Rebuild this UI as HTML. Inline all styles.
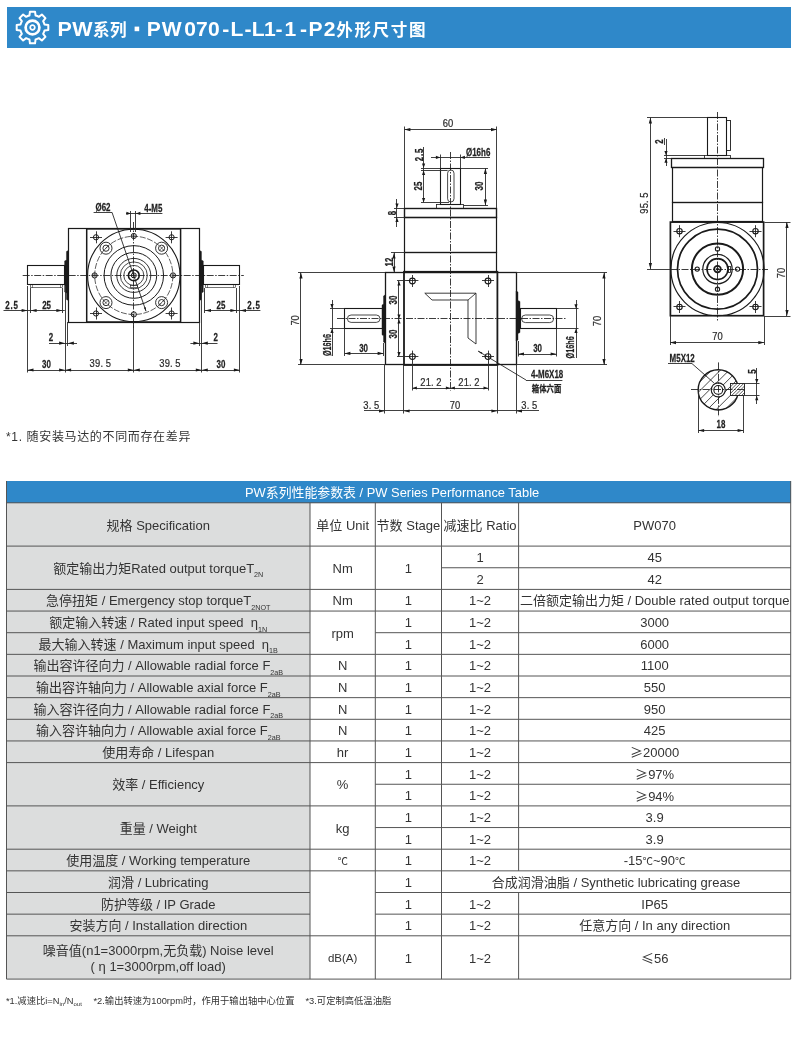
<!DOCTYPE html>
<html lang="zh"><head><meta charset="utf-8"><title>PW070-L-L1-1-P2</title>
<style>
html,body{margin:0;padding:0;background:#fff}
#wrap{position:absolute;left:0;top:0;width:800px;height:1050px;will-change:transform;opacity:.999}
body{width:800px;height:1050px;position:relative;overflow:hidden;font-family:"Liberation Sans","Noto Sans CJK SC",sans-serif;color:#333}
.title{position:absolute;left:6.5px;top:7px;width:784.5px;height:40.5px;background:#2f88c9}
.title .t{position:absolute;left:52px;top:0;height:40.5px;line-height:40.5px;color:#fff;font-weight:bold;font-size:20.5px;white-space:nowrap;transform-origin:0 50%}
.c{position:absolute;display:flex;align-items:center;justify-content:center;text-align:center;font-size:13px;line-height:21.65px;white-space:nowrap;color:#333}
.c span{display:inline-block}
.c>span{position:relative;top:1px}
.dc{font-family:"Noto Sans CJK SC",sans-serif;font-size:10.5px;position:relative;top:-0.5px}
.ge{font-family:"Noto Sans CJK SC",sans-serif;font-size:13px}
.sb{font-size:7.2px;position:relative;top:4.5px;letter-spacing:0;line-height:1}
.thead{position:absolute;background:#2f88c9;color:#fff;font-size:12.9px;display:flex;align-items:center;justify-content:center;white-space:nowrap}
.n1{position:absolute;left:6px;top:429px;font-size:12px;letter-spacing:.65px;line-height:16px;white-space:nowrap;color:#333}
.n2 sub{font-size:6px;vertical-align:-2px;line-height:0}
.n2{position:absolute;top:995px;font-size:9.3px;line-height:12px;white-space:nowrap;color:#333}
</style></head><body><div id="wrap">
<div class="title"><svg style="position:absolute;left:8px;top:3px" width="35" height="35" viewBox="-17.5 -17.5 35 35" fill="none" stroke="#fff">
<path stroke-width="2" stroke-linejoin="round" d="M-3.07 -12.01L-2.55 -15.80L2.55 -15.80L3.07 -12.01A12.4 12.4 0 0 1 6.33 -10.66L9.37 -12.97L12.97 -9.37L10.66 -6.33A12.4 12.4 0 0 1 12.01 -3.07L15.80 -2.55L15.80 2.55L12.01 3.07A12.4 12.4 0 0 1 10.66 6.33L12.97 9.37L9.37 12.97L6.33 10.66A12.4 12.4 0 0 1 3.07 12.01L2.55 15.80L-2.55 15.80L-3.07 12.01A12.4 12.4 0 0 1 -6.33 10.66L-9.37 12.97L-12.97 9.37L-10.66 6.33A12.4 12.4 0 0 1 -12.01 3.07L-15.80 2.55L-15.80 -2.55L-12.01 -3.07A12.4 12.4 0 0 1 -10.66 -6.33L-12.97 -9.37L-9.37 -12.97L-6.33 -10.66A12.4 12.4 0 0 1 -3.07 -12.01Z"/>
<circle r="6.9" stroke-width="2.7"/><circle r="2.3" stroke-width="1.7"/></svg></div>
<svg style="position:absolute;left:0;top:0" width="800" height="60" viewBox="0 0 800 60" fill="#fff" font-weight="bold" font-family='"Liberation Sans","Noto Sans CJK SC",sans-serif'>
<text transform="scale(1.08 1)" x="53.24 66.81" y="36.3" font-size="19.9">PW</text>
<text x="93" y="35.8" font-size="16.6" letter-spacing="0.5">系列</text>
<rect x="134.6" y="26.6" width="4.6" height="4.6"/>
<text transform="scale(1.06 1)" x="138.52 152.63 173.93 185.02 196.20 209.62 217.56 230.66 237.40 249.10 259.90 268.30 283.02 290.97 305.54" y="36.3" font-size="19.9">PW070-L-L1-1-P2</text>
<text x="336.2" y="35.8" font-size="16.6" letter-spacing="1.6">外形尺寸图</text>
</svg>
<svg class="dw" width="800" height="470" viewBox="0 0 800 470" style="position:absolute;left:0;top:0" fill="none">
<rect x="68.5" y="228.5" width="131" height="94" stroke="#1a1a1a" stroke-width="1.2" fill="none"/>
<rect x="86.7" y="228.9" width="93.9" height="93.1" stroke="#1a1a1a" stroke-width="1.5" fill="none"/>
<rect x="27.5" y="265.5" width="37" height="19" stroke="#1a1a1a" stroke-width="1.1" fill="none"/>
<rect x="30.5" y="284.5" width="32" height="3" stroke="#1a1a1a" stroke-width="0.6" fill="none"/>
<path d="M32.5 285L32.5 287.8" stroke="#1a1a1a" stroke-width="0.5"/>
<path d="M60.5 285L60.5 287.8" stroke="#1a1a1a" stroke-width="0.5"/>
<path d="M68.3 250.5L66.45 251.5L66.45 259.98L64.6 260.98L64.6 291.91L66.45 292.91L66.45 299.4L68.3 300.4Z" stroke="#1a1a1a" stroke-width="0.4" fill="#1a1a1a"/>
<rect x="203.5" y="265.5" width="36" height="19" stroke="#1a1a1a" stroke-width="1.1" fill="none"/>
<rect x="205.5" y="284.5" width="30" height="3" stroke="#1a1a1a" stroke-width="0.6" fill="none"/>
<path d="M207.5 285L207.5 287.8" stroke="#1a1a1a" stroke-width="0.5"/>
<path d="M233.5 285L233.5 287.8" stroke="#1a1a1a" stroke-width="0.5"/>
<path d="M199.6 250.5L201.45 251.5L201.45 259.98L203.3 260.98L203.3 291.91L201.45 292.91L201.45 299.4L199.6 300.4Z" stroke="#1a1a1a" stroke-width="0.4" fill="#1a1a1a"/>
<circle cx="133.8" cy="275.4" r="46.2" stroke="#1a1a1a" stroke-width="1.1" fill="none"/>
<circle cx="133.8" cy="275.4" r="39.1" stroke="#1a1a1a" stroke-width="0.7" fill="none" stroke-dasharray="6 1.6"/>
<circle cx="133.8" cy="275.4" r="29.75" stroke="#1a1a1a" stroke-width="1.0" fill="none"/>
<circle cx="133.8" cy="275.4" r="22.9" stroke="#1a1a1a" stroke-width="1.0" fill="none"/>
<circle cx="133.8" cy="275.4" r="17" stroke="#1a1a1a" stroke-width="0.9" fill="none"/>
<circle cx="133.8" cy="275.4" r="13.5" stroke="#1a1a1a" stroke-width="0.8" fill="none"/>
<circle cx="133.8" cy="275.4" r="10" stroke="#1a1a1a" stroke-width="0.8" fill="none"/>
<circle cx="133.8" cy="275.4" r="5.4" stroke="#1a1a1a" stroke-width="1.6" fill="none"/>
<circle cx="133.8" cy="275.4" r="2.5" stroke="#1a1a1a" stroke-width="1.0" fill="none"/>
<circle cx="133.8" cy="275.4" r="0.9" stroke="#1a1a1a" stroke-width="0.5" fill="#1a1a1a"/>
<rect x="130.5" y="285.5" width="7" height="2" stroke="#1a1a1a" stroke-width="0.6" fill="none"/>
<circle cx="96" cy="237.3" r="2.6" stroke="#1a1a1a" stroke-width="1.0" fill="none"/>
<path d="M90 237.5L102 237.5" stroke="#1a1a1a" stroke-width="0.85"/>
<path d="M96.5 231.3L96.5 243.3" stroke="#1a1a1a" stroke-width="0.85"/>
<circle cx="106" cy="248.2" r="6" stroke="#1a1a1a" stroke-width="0.9" fill="none"/>
<circle cx="106" cy="248.2" r="3.1" stroke="#1a1a1a" stroke-width="0.9" fill="none"/>
<path d="M104 250.2L108 246.2" stroke="#1a1a1a" stroke-width="0.6"/>
<circle cx="96" cy="313.5" r="2.6" stroke="#1a1a1a" stroke-width="1.0" fill="none"/>
<path d="M90 313.5L102 313.5" stroke="#1a1a1a" stroke-width="0.85"/>
<path d="M96.5 307.5L96.5 319.5" stroke="#1a1a1a" stroke-width="0.85"/>
<circle cx="106" cy="302.6" r="6" stroke="#1a1a1a" stroke-width="0.9" fill="none"/>
<circle cx="106" cy="302.6" r="3.1" stroke="#1a1a1a" stroke-width="0.9" fill="none"/>
<path d="M104 304.6L108 300.6" stroke="#1a1a1a" stroke-width="0.6"/>
<circle cx="171.6" cy="237.3" r="2.6" stroke="#1a1a1a" stroke-width="1.0" fill="none"/>
<path d="M165.6 237.5L177.6 237.5" stroke="#1a1a1a" stroke-width="0.85"/>
<path d="M171.5 231.3L171.5 243.3" stroke="#1a1a1a" stroke-width="0.85"/>
<circle cx="161.6" cy="248.2" r="6" stroke="#1a1a1a" stroke-width="0.9" fill="none"/>
<circle cx="161.6" cy="248.2" r="3.1" stroke="#1a1a1a" stroke-width="0.9" fill="none"/>
<path d="M159.6 250.2L163.6 246.2" stroke="#1a1a1a" stroke-width="0.6"/>
<circle cx="171.6" cy="313.5" r="2.6" stroke="#1a1a1a" stroke-width="1.0" fill="none"/>
<path d="M165.6 313.5L177.6 313.5" stroke="#1a1a1a" stroke-width="0.85"/>
<path d="M171.5 307.5L171.5 319.5" stroke="#1a1a1a" stroke-width="0.85"/>
<circle cx="161.6" cy="302.6" r="6" stroke="#1a1a1a" stroke-width="0.9" fill="none"/>
<circle cx="161.6" cy="302.6" r="3.1" stroke="#1a1a1a" stroke-width="0.9" fill="none"/>
<path d="M159.6 304.6L163.6 300.6" stroke="#1a1a1a" stroke-width="0.6"/>
<circle cx="94.6" cy="275.4" r="2.6" stroke="#1a1a1a" stroke-width="1.0" fill="none"/>
<circle cx="94.6" cy="275.4" r="1.4" stroke="#1a1a1a" stroke-width="0.4" fill="none"/>
<circle cx="173" cy="275.4" r="2.6" stroke="#1a1a1a" stroke-width="1.0" fill="none"/>
<circle cx="173" cy="275.4" r="1.4" stroke="#1a1a1a" stroke-width="0.4" fill="none"/>
<circle cx="133.8" cy="236" r="2.6" stroke="#1a1a1a" stroke-width="1.0" fill="none"/>
<circle cx="133.8" cy="236" r="1.4" stroke="#1a1a1a" stroke-width="0.4" fill="none"/>
<circle cx="133.8" cy="314.4" r="2.6" stroke="#1a1a1a" stroke-width="1.0" fill="none"/>
<circle cx="133.8" cy="314.4" r="1.4" stroke="#1a1a1a" stroke-width="0.4" fill="none"/>
<path d="M22.7 275.5L243.8 275.5" stroke="#1a1a1a" stroke-width="0.85" stroke-dasharray="7 1.5 1.5 1.5"/>
<path d="M133.5 222L133.5 328" stroke="#1a1a1a" stroke-width="0.85" stroke-dasharray="7 1.5 1.5 1.5"/>
<path d="M93.6 212.5L112 212.5" stroke="#2b2b2b" stroke-width="0.9"/>
<path d="M112 212.3L146 311.2" stroke="#1a1a1a" stroke-width="0.85"/>
<path d="M146.2 311.6L143.88 307.64L145.59 307.05Z" fill="#1a1a1a" stroke="none"/>
<text transform="translate(103 210.6) scale(0.68 1)" text-anchor="middle" font-size="11.7" font-family='"Liberation Sans","Noto Sans CJK SC",sans-serif' fill="#222" font-weight="bold" stroke="#222" stroke-width="0.25">Ø62</text>
<text transform="translate(153.3 211.8) scale(0.68 1)" text-anchor="middle" font-size="11.7" font-family='"Liberation Sans","Noto Sans CJK SC",sans-serif' fill="#222" font-weight="bold" stroke="#222" stroke-width="0.25">4-M5</text>
<path d="M126 213.5L162.4 213.5" stroke="#2b2b2b" stroke-width="0.9"/>
<path d="M130.9 213.4L126.4 215L126.4 211.8Z" fill="#1a1a1a" stroke="none"/>
<path d="M135.9 213.4L140.4 211.8L140.4 215Z" fill="#1a1a1a" stroke="none"/>
<path d="M130.5 211L130.5 232" stroke="#2b2b2b" stroke-width="0.9"/>
<path d="M135.5 211L135.5 232" stroke="#2b2b2b" stroke-width="0.9"/>
<path d="M3.5 310.5L64.8 310.5" stroke="#2b2b2b" stroke-width="0.9"/>
<path d="M27.6 310.5L21.6 312.1L21.6 308.9Z" fill="#1a1a1a" stroke="none"/>
<path d="M30.6 310.5L36.6 308.9L36.6 312.1Z" fill="#1a1a1a" stroke="none"/>
<path d="M62.4 310.5L56.4 312.1L56.4 308.9Z" fill="#1a1a1a" stroke="none"/>
<path d="M204.4 310.5L260.4 310.5" stroke="#2b2b2b" stroke-width="0.9"/>
<path d="M240 310.5L246 308.9L246 312.1Z" fill="#1a1a1a" stroke="none"/>
<path d="M236.4 310.5L230.4 312.1L230.4 308.9Z" fill="#1a1a1a" stroke="none"/>
<path d="M205 310.5L211 308.9L211 312.1Z" fill="#1a1a1a" stroke="none"/>
<text transform="translate(12 308.5) scale(0.68 1)" text-anchor="middle" font-size="11.7" font-family='"Liberation Sans","Noto Sans CJK SC",sans-serif' fill="#222" font-weight="bold" stroke="#222" stroke-width="0.25" letter-spacing="1.2">2.5</text>
<text transform="translate(46.6 308.5) scale(0.68 1)" text-anchor="middle" font-size="11.7" font-family='"Liberation Sans","Noto Sans CJK SC",sans-serif' fill="#222" font-weight="bold" stroke="#222" stroke-width="0.25">25</text>
<text transform="translate(221 308.5) scale(0.68 1)" text-anchor="middle" font-size="11.7" font-family='"Liberation Sans","Noto Sans CJK SC",sans-serif' fill="#222" font-weight="bold" stroke="#222" stroke-width="0.25">25</text>
<text transform="translate(254 308.5) scale(0.68 1)" text-anchor="middle" font-size="11.7" font-family='"Liberation Sans","Noto Sans CJK SC",sans-serif' fill="#222" font-weight="bold" stroke="#222" stroke-width="0.25" letter-spacing="1.2">2.5</text>
<path d="M30.5 288L30.5 313" stroke="#2b2b2b" stroke-width="0.9"/>
<path d="M62.5 288L62.5 313" stroke="#2b2b2b" stroke-width="0.9"/>
<path d="M204.5 288L204.5 313" stroke="#2b2b2b" stroke-width="0.9"/>
<path d="M236.5 288L236.5 313" stroke="#2b2b2b" stroke-width="0.9"/>
<path d="M27.5 286L27.5 372.5" stroke="#2b2b2b" stroke-width="0.9"/>
<path d="M65.5 286L65.5 372.5" stroke="#2b2b2b" stroke-width="0.9"/>
<path d="M201.5 286L201.5 372.5" stroke="#2b2b2b" stroke-width="0.9"/>
<path d="M239.5 286L239.5 372.5" stroke="#2b2b2b" stroke-width="0.9"/>
<path d="M67.5 322L67.5 346" stroke="#2b2b2b" stroke-width="0.9"/>
<path d="M199.5 322L199.5 346" stroke="#2b2b2b" stroke-width="0.9"/>
<path d="M133.5 322L133.5 372.5" stroke="#2b2b2b" stroke-width="0.9"/>
<path d="M49 343.5L77 343.5" stroke="#2b2b2b" stroke-width="0.9"/>
<path d="M65.1 343.2L59.1 344.8L59.1 341.6Z" fill="#1a1a1a" stroke="none"/>
<path d="M67.9 343.2L73.9 341.6L73.9 344.8Z" fill="#1a1a1a" stroke="none"/>
<path d="M190.4 343.5L217.5 343.5" stroke="#2b2b2b" stroke-width="0.9"/>
<path d="M199.4 343.2L193.4 344.8L193.4 341.6Z" fill="#1a1a1a" stroke="none"/>
<path d="M201.8 343.2L207.8 341.6L207.8 344.8Z" fill="#1a1a1a" stroke="none"/>
<text transform="translate(51 341.4) scale(0.68 1)" text-anchor="middle" font-size="11.7" font-family='"Liberation Sans","Noto Sans CJK SC",sans-serif' fill="#222" font-weight="bold" stroke="#222" stroke-width="0.25">2</text>
<text transform="translate(215.8 341.4) scale(0.68 1)" text-anchor="middle" font-size="11.7" font-family='"Liberation Sans","Noto Sans CJK SC",sans-serif' fill="#222" font-weight="bold" stroke="#222" stroke-width="0.25">2</text>
<path d="M27.5 370.5L239.9 370.5" stroke="#2b2b2b" stroke-width="0.9"/>
<path d="M27.5 370L33.5 368.4L33.5 371.6Z" fill="#1a1a1a" stroke="none"/>
<path d="M65.1 370L59.1 371.6L59.1 368.4Z" fill="#1a1a1a" stroke="none"/>
<path d="M65.1 370L71.1 368.4L71.1 371.6Z" fill="#1a1a1a" stroke="none"/>
<path d="M133.8 370L127.8 371.6L127.8 368.4Z" fill="#1a1a1a" stroke="none"/>
<path d="M133.8 370L139.8 368.4L139.8 371.6Z" fill="#1a1a1a" stroke="none"/>
<path d="M201.8 370L195.8 371.6L195.8 368.4Z" fill="#1a1a1a" stroke="none"/>
<path d="M201.8 370L207.8 368.4L207.8 371.6Z" fill="#1a1a1a" stroke="none"/>
<path d="M239.9 370L233.9 371.6L233.9 368.4Z" fill="#1a1a1a" stroke="none"/>
<text transform="translate(46.4 367.6) scale(0.68 1)" text-anchor="middle" font-size="11.7" font-family='"Liberation Sans","Noto Sans CJK SC",sans-serif' fill="#222" font-weight="bold" stroke="#222" stroke-width="0.25">30</text>
<text transform="translate(221 367.6) scale(0.68 1)" text-anchor="middle" font-size="11.7" font-family='"Liberation Sans","Noto Sans CJK SC",sans-serif' fill="#222" font-weight="bold" stroke="#222" stroke-width="0.25">30</text>
<text transform="translate(100.3 367.4) scale(0.93 1)" text-anchor="middle" font-size="10.1" font-family='"Liberation Sans",sans-serif' fill="#2a2a2a" stroke="#2a2a2a" stroke-width="0.2" letter-spacing="0.25">39.<tspan dx="2.6">5</tspan></text>
<text transform="translate(170 367.4) scale(0.93 1)" text-anchor="middle" font-size="10.1" font-family='"Liberation Sans",sans-serif' fill="#2a2a2a" stroke="#2a2a2a" stroke-width="0.2" letter-spacing="0.25">39.<tspan dx="2.6">5</tspan></text>
<rect x="440.5" y="168.5" width="20" height="36" stroke="#1a1a1a" stroke-width="1.1" fill="none"/>
<rect x="436.5" y="204.5" width="27" height="4" stroke="#1a1a1a" stroke-width="0.8" fill="none"/>
<rect x="447.6" y="170" width="6.4" height="32" stroke="#1a1a1a" stroke-width="0.8" fill="none" rx="3.2"/>
<rect x="404.5" y="208.5" width="92" height="9" stroke="#1a1a1a" stroke-width="1.4" fill="none"/>
<rect x="404.5" y="217.5" width="92" height="35" stroke="#1a1a1a" stroke-width="1.2" fill="none"/>
<rect x="404.5" y="252.5" width="92" height="20" stroke="#1a1a1a" stroke-width="1.2" fill="none"/>
<path d="M450.5 152L450.5 391" stroke="#1a1a1a" stroke-width="0.85" stroke-dasharray="7 1.5 1.5 1.5"/>
<path d="M404.4 129.5L497 129.5" stroke="#2b2b2b" stroke-width="0.9"/>
<path d="M404.4 129.6L410.4 128L410.4 131.2Z" fill="#1a1a1a" stroke="none"/>
<path d="M497 129.6L491 131.2L491 128Z" fill="#1a1a1a" stroke="none"/>
<path d="M404.5 126.5L404.5 208" stroke="#2b2b2b" stroke-width="0.9"/>
<path d="M496.5 126.5L496.5 208" stroke="#2b2b2b" stroke-width="0.9"/>
<text transform="translate(448 127.4) scale(0.93 1)" text-anchor="middle" font-size="10.1" font-family='"Liberation Sans",sans-serif' fill="#2a2a2a" stroke="#2a2a2a" stroke-width="0.2">60</text>
<text transform="translate(466 155.6) scale(0.68 1)" text-anchor="start" font-size="11.7" font-family='"Liberation Sans","Noto Sans CJK SC",sans-serif' fill="#222" font-weight="bold" stroke="#222" stroke-width="0.25">Ø16h6</text>
<path d="M431 157.5L490 157.5" stroke="#2b2b2b" stroke-width="0.9"/>
<path d="M440.4 157.4L435.9 159L435.9 155.8Z" fill="#1a1a1a" stroke="none"/>
<path d="M460.4 157.4L464.9 155.8L464.9 159Z" fill="#1a1a1a" stroke="none"/>
<path d="M440.5 154.5L440.5 168" stroke="#2b2b2b" stroke-width="0.9"/>
<path d="M460.5 154.5L460.5 168" stroke="#2b2b2b" stroke-width="0.9"/>
<path d="M423.5 147L423.5 202.4" stroke="#2b2b2b" stroke-width="0.9"/>
<path d="M423.6 168L422 163.5L425.2 163.5Z" fill="#1a1a1a" stroke="none"/>
<path d="M423.6 170.4L425.2 174.9L422 174.9Z" fill="#1a1a1a" stroke="none"/>
<path d="M423.6 202.4L422 197.9L425.2 197.9Z" fill="#1a1a1a" stroke="none"/>
<path d="M421 168.5L440.4 168.5" stroke="#2b2b2b" stroke-width="0.9"/>
<path d="M421 170.5L447.6 170.5" stroke="#2b2b2b" stroke-width="0.9"/>
<path d="M421 202.5L449 202.5" stroke="#2b2b2b" stroke-width="0.9"/>
<text transform="translate(422.6 154.5) rotate(-90) scale(0.68 1)" text-anchor="middle" font-size="11.7" font-family='"Liberation Sans","Noto Sans CJK SC",sans-serif' fill="#222" font-weight="bold" stroke="#222" stroke-width="0.25" letter-spacing="1.2">2.5</text>
<text transform="translate(422.4 186) rotate(-90) scale(0.68 1)" text-anchor="middle" font-size="11.7" font-family='"Liberation Sans","Noto Sans CJK SC",sans-serif' fill="#222" font-weight="bold" stroke="#222" stroke-width="0.25">25</text>
<path d="M485.5 168L485.5 205.6" stroke="#2b2b2b" stroke-width="0.9"/>
<path d="M485.4 168L487 174L483.8 174Z" fill="#1a1a1a" stroke="none"/>
<path d="M485.4 205.6L483.8 199.6L487 199.6Z" fill="#1a1a1a" stroke="none"/>
<path d="M460.4 168.5L488 168.5" stroke="#2b2b2b" stroke-width="0.9"/>
<path d="M463.6 205.5L488 205.5" stroke="#2b2b2b" stroke-width="0.9"/>
<text transform="translate(483.4 186) rotate(-90) scale(0.68 1)" text-anchor="middle" font-size="11.7" font-family='"Liberation Sans","Noto Sans CJK SC",sans-serif' fill="#222" font-weight="bold" stroke="#222" stroke-width="0.25">30</text>
<path d="M396.5 199L396.5 227" stroke="#2b2b2b" stroke-width="0.9"/>
<path d="M397 208L395.4 203.5L398.6 203.5Z" fill="#1a1a1a" stroke="none"/>
<path d="M397 217.6L398.6 222.1L395.4 222.1Z" fill="#1a1a1a" stroke="none"/>
<path d="M394 208.5L404.4 208.5" stroke="#2b2b2b" stroke-width="0.9"/>
<path d="M394 217.5L405 217.5" stroke="#2b2b2b" stroke-width="0.9"/>
<text transform="translate(395.6 213) rotate(-90) scale(0.68 1)" text-anchor="middle" font-size="11.7" font-family='"Liberation Sans","Noto Sans CJK SC",sans-serif' fill="#222" font-weight="bold" stroke="#222" stroke-width="0.25">8</text>
<path d="M394.5 252.4L394.5 272.4" stroke="#2b2b2b" stroke-width="0.9"/>
<path d="M394 252.4L395.6 258.4L392.4 258.4Z" fill="#1a1a1a" stroke="none"/>
<path d="M394 272.4L392.4 266.4L395.6 266.4Z" fill="#1a1a1a" stroke="none"/>
<path d="M391 252.5L405 252.5" stroke="#2b2b2b" stroke-width="0.9"/>
<text transform="translate(392.8 262) rotate(-90) scale(0.68 1)" text-anchor="middle" font-size="11.7" font-family='"Liberation Sans","Noto Sans CJK SC",sans-serif' fill="#222" font-weight="bold" stroke="#222" stroke-width="0.25">12</text>
<rect x="385.5" y="272.5" width="131" height="92" stroke="#1a1a1a" stroke-width="1.3" fill="none"/>
<rect x="404" y="271.8" width="93.4" height="93.2" stroke="#1a1a1a" stroke-width="1.8" fill="none"/>
<circle cx="412.4" cy="281" r="2.9" stroke="#1a1a1a" stroke-width="1.1" fill="none"/>
<path d="M406.4 280.5L418.4 280.5" stroke="#1a1a1a" stroke-width="0.85"/>
<path d="M412.5 275L412.5 287" stroke="#1a1a1a" stroke-width="0.85"/>
<circle cx="412.4" cy="356.6" r="2.9" stroke="#1a1a1a" stroke-width="1.1" fill="none"/>
<path d="M406.4 356.5L418.4 356.5" stroke="#1a1a1a" stroke-width="0.85"/>
<path d="M412.5 350.6L412.5 362.6" stroke="#1a1a1a" stroke-width="0.85"/>
<circle cx="488" cy="281" r="2.9" stroke="#1a1a1a" stroke-width="1.1" fill="none"/>
<path d="M482 280.5L494 280.5" stroke="#1a1a1a" stroke-width="0.85"/>
<path d="M488.5 275L488.5 287" stroke="#1a1a1a" stroke-width="0.85"/>
<circle cx="488" cy="356.6" r="2.9" stroke="#1a1a1a" stroke-width="1.1" fill="none"/>
<path d="M482 356.5L494 356.5" stroke="#1a1a1a" stroke-width="0.85"/>
<path d="M488.5 350.6L488.5 362.6" stroke="#1a1a1a" stroke-width="0.85"/>
<path d="M424.8 293.2L476 293.2L476 344L468 338L468 300L432 300Z" stroke="#1a1a1a" stroke-width="0.85" fill="none"/>
<path d="M468 300L476 293.2" stroke="#1a1a1a" stroke-width="0.8"/>
<rect x="344.5" y="308.5" width="38" height="20" stroke="#1a1a1a" stroke-width="1.1" fill="none"/>
<rect x="347.4" y="315" width="32.6" height="7.4" stroke="#1a1a1a" stroke-width="0.8" fill="none" rx="3.7"/>
<path d="M385 295L383.5 296L383.5 304.12L382 305.12L382 334.8L383.5 335.8L383.5 342L385 343Z" stroke="#1a1a1a" stroke-width="0.4" fill="#1a1a1a"/>
<rect x="520.5" y="308.5" width="36" height="20" stroke="#1a1a1a" stroke-width="1.1" fill="none"/>
<rect x="521.6" y="315" width="32" height="7.6" stroke="#1a1a1a" stroke-width="0.8" fill="none" rx="3.8"/>
<path d="M516 291L518 292L518 300.5L520 301.5L520 332.5L518 333.5L518 340L516 341Z" stroke="#1a1a1a" stroke-width="0.4" fill="#1a1a1a"/>
<path d="M337 318.5L566 318.5" stroke="#1a1a1a" stroke-width="0.85" stroke-dasharray="7 1.5 1.5 1.5"/>
<path d="M300.5 272.4L300.5 365" stroke="#2b2b2b" stroke-width="0.9"/>
<path d="M301 272.4L302.6 278.4L299.4 278.4Z" fill="#1a1a1a" stroke="none"/>
<path d="M301 365L299.4 359L302.6 359Z" fill="#1a1a1a" stroke="none"/>
<path d="M298 272.5L385 272.5" stroke="#2b2b2b" stroke-width="0.9"/>
<path d="M298 364.5L385 364.5" stroke="#2b2b2b" stroke-width="0.9"/>
<text transform="translate(299 320.4) rotate(-90) scale(0.93 1)" text-anchor="middle" font-size="10.1" font-family='"Liberation Sans",sans-serif' fill="#2a2a2a" stroke="#2a2a2a" stroke-width="0.2">70</text>
<path d="M332.5 300L332.5 356" stroke="#2b2b2b" stroke-width="0.9"/>
<path d="M332 308.6L330.4 304.1L333.6 304.1Z" fill="#1a1a1a" stroke="none"/>
<path d="M332 328.6L333.6 333.1L330.4 333.1Z" fill="#1a1a1a" stroke="none"/>
<path d="M330 308.5L344.4 308.5" stroke="#2b2b2b" stroke-width="0.9"/>
<path d="M330 328.5L344.4 328.5" stroke="#2b2b2b" stroke-width="0.9"/>
<text transform="translate(330.6 345) rotate(-90) scale(0.62 1)" text-anchor="middle" font-size="11.7" font-family='"Liberation Sans","Noto Sans CJK SC",sans-serif' fill="#222" font-weight="bold" stroke="#222" stroke-width="0.25">Ø16h6</text>
<path d="M344.4 353.5L383.6 353.5" stroke="#2b2b2b" stroke-width="0.9"/>
<path d="M344.4 353.4L350.4 351.8L350.4 355Z" fill="#1a1a1a" stroke="none"/>
<path d="M383.6 353.4L377.6 355L377.6 351.8Z" fill="#1a1a1a" stroke="none"/>
<path d="M344.5 328.6L344.5 356" stroke="#2b2b2b" stroke-width="0.9"/>
<path d="M383.5 343L383.5 356" stroke="#2b2b2b" stroke-width="0.9"/>
<text transform="translate(363.6 351.6) scale(0.68 1)" text-anchor="middle" font-size="11.7" font-family='"Liberation Sans","Noto Sans CJK SC",sans-serif' fill="#222" font-weight="bold" stroke="#222" stroke-width="0.25">30</text>
<path d="M398.5 281L398.5 356.6" stroke="#2b2b2b" stroke-width="0.9"/>
<path d="M399 281L400.6 285.5L397.4 285.5Z" fill="#1a1a1a" stroke="none"/>
<path d="M399 319L397.4 314.5L400.6 314.5Z" fill="#1a1a1a" stroke="none"/>
<path d="M399 319L400.6 323.5L397.4 323.5Z" fill="#1a1a1a" stroke="none"/>
<path d="M399 356.6L397.4 352.1L400.6 352.1Z" fill="#1a1a1a" stroke="none"/>
<path d="M397 280.5L409 280.5" stroke="#2b2b2b" stroke-width="0.9"/>
<path d="M397 356.5L409 356.5" stroke="#2b2b2b" stroke-width="0.9"/>
<text transform="translate(396.6 300) rotate(-90) scale(0.68 1)" text-anchor="middle" font-size="11.7" font-family='"Liberation Sans","Noto Sans CJK SC",sans-serif' fill="#222" font-weight="bold" stroke="#222" stroke-width="0.25">30</text>
<text transform="translate(396.6 334) rotate(-90) scale(0.68 1)" text-anchor="middle" font-size="11.7" font-family='"Liberation Sans","Noto Sans CJK SC",sans-serif' fill="#222" font-weight="bold" stroke="#222" stroke-width="0.25">30</text>
<path d="M412.4 388.5L488 388.5" stroke="#2b2b2b" stroke-width="0.9"/>
<path d="M412.4 388L416.9 386.4L416.9 389.6Z" fill="#1a1a1a" stroke="none"/>
<path d="M450.4 388L445.9 389.6L445.9 386.4Z" fill="#1a1a1a" stroke="none"/>
<path d="M450.4 388L454.9 386.4L454.9 389.6Z" fill="#1a1a1a" stroke="none"/>
<path d="M488 388L483.5 389.6L483.5 386.4Z" fill="#1a1a1a" stroke="none"/>
<path d="M412.5 362L412.5 390.5" stroke="#2b2b2b" stroke-width="0.9"/>
<path d="M488.5 362L488.5 390.5" stroke="#2b2b2b" stroke-width="0.9"/>
<text transform="translate(431 386) scale(0.93 1)" text-anchor="middle" font-size="10.1" font-family='"Liberation Sans",sans-serif' fill="#2a2a2a" stroke="#2a2a2a" stroke-width="0.2" letter-spacing="0.25">21.<tspan dx="2.6">2</tspan></text>
<text transform="translate(469 386) scale(0.93 1)" text-anchor="middle" font-size="10.1" font-family='"Liberation Sans",sans-serif' fill="#2a2a2a" stroke="#2a2a2a" stroke-width="0.2" letter-spacing="0.25">21.<tspan dx="2.6">2</tspan></text>
<path d="M364 410.5L539 410.5" stroke="#2b2b2b" stroke-width="0.9"/>
<path d="M385 411L379 412.6L379 409.4Z" fill="#1a1a1a" stroke="none"/>
<path d="M403.6 411L409.6 409.4L409.6 412.6Z" fill="#1a1a1a" stroke="none"/>
<path d="M497.4 411L491.4 412.6L491.4 409.4Z" fill="#1a1a1a" stroke="none"/>
<path d="M516 411L522 409.4L522 412.6Z" fill="#1a1a1a" stroke="none"/>
<path d="M384.5 365L384.5 413.5" stroke="#2b2b2b" stroke-width="0.9"/>
<path d="M403.5 365L403.5 413.5" stroke="#2b2b2b" stroke-width="0.9"/>
<path d="M497.5 365L497.5 413.5" stroke="#2b2b2b" stroke-width="0.9"/>
<path d="M516.5 365L516.5 413.5" stroke="#2b2b2b" stroke-width="0.9"/>
<text transform="translate(455 409.4) scale(0.93 1)" text-anchor="middle" font-size="10.1" font-family='"Liberation Sans",sans-serif' fill="#2a2a2a" stroke="#2a2a2a" stroke-width="0.2">70</text>
<text transform="translate(371.4 408.6) scale(0.93 1)" text-anchor="middle" font-size="10.1" font-family='"Liberation Sans",sans-serif' fill="#2a2a2a" stroke="#2a2a2a" stroke-width="0.2" letter-spacing="0.25">3.<tspan dx="2.6">5</tspan></text>
<text transform="translate(529.4 409.4) scale(0.93 1)" text-anchor="middle" font-size="10.1" font-family='"Liberation Sans",sans-serif' fill="#2a2a2a" stroke="#2a2a2a" stroke-width="0.2" letter-spacing="0.25">3.<tspan dx="2.6">5</tspan></text>
<path d="M518 354.5L556.6 354.5" stroke="#2b2b2b" stroke-width="0.9"/>
<path d="M518 354L524 352.4L524 355.6Z" fill="#1a1a1a" stroke="none"/>
<path d="M556.6 354L550.6 355.6L550.6 352.4Z" fill="#1a1a1a" stroke="none"/>
<path d="M518.5 341L518.5 356.5" stroke="#2b2b2b" stroke-width="0.9"/>
<path d="M556.5 328.6L556.5 356.5" stroke="#2b2b2b" stroke-width="0.9"/>
<text transform="translate(537.6 351.8) scale(0.68 1)" text-anchor="middle" font-size="11.7" font-family='"Liberation Sans","Noto Sans CJK SC",sans-serif' fill="#222" font-weight="bold" stroke="#222" stroke-width="0.25">30</text>
<path d="M576.5 300L576.5 358" stroke="#2b2b2b" stroke-width="0.9"/>
<path d="M576 308.8L574.4 304.3L577.6 304.3Z" fill="#1a1a1a" stroke="none"/>
<path d="M576 328.6L577.6 333.1L574.4 333.1Z" fill="#1a1a1a" stroke="none"/>
<path d="M556.6 308.5L578.5 308.5" stroke="#2b2b2b" stroke-width="0.9"/>
<path d="M556.6 328.5L578.5 328.5" stroke="#2b2b2b" stroke-width="0.9"/>
<text transform="translate(574.4 347.4) rotate(-90) scale(0.62 1)" text-anchor="middle" font-size="11.7" font-family='"Liberation Sans","Noto Sans CJK SC",sans-serif' fill="#222" font-weight="bold" stroke="#222" stroke-width="0.25">Ø16h6</text>
<path d="M604.5 272.4L604.5 365" stroke="#2b2b2b" stroke-width="0.9"/>
<path d="M604 272.4L605.6 278.4L602.4 278.4Z" fill="#1a1a1a" stroke="none"/>
<path d="M604 365L602.4 359L605.6 359Z" fill="#1a1a1a" stroke="none"/>
<path d="M516 272.5L607 272.5" stroke="#2b2b2b" stroke-width="0.9"/>
<path d="M516 364.5L607 364.5" stroke="#2b2b2b" stroke-width="0.9"/>
<text transform="translate(600.6 321) rotate(-90) scale(0.93 1)" text-anchor="middle" font-size="10.1" font-family='"Liberation Sans",sans-serif' fill="#2a2a2a" stroke="#2a2a2a" stroke-width="0.2">70</text>
<path d="M526 380.5L562.4 380.5" stroke="#2b2b2b" stroke-width="0.9"/>
<path d="M526 380L478 351" stroke="#1a1a1a" stroke-width="0.85"/>
<path d="M478 351L482.32 352.55L481.39 354.09Z" fill="#1a1a1a" stroke="none"/>
<text transform="translate(531 378) scale(0.68 1)" text-anchor="start" font-size="11.7" font-family='"Liberation Sans","Noto Sans CJK SC",sans-serif' fill="#222" font-weight="bold" stroke="#222" stroke-width="0.25">4-M6X18</text>
<text transform="translate(531.8 392.2) scale(0.86 1)" text-anchor="start" font-size="8.6" font-family='"Liberation Sans","Noto Sans CJK SC",sans-serif' fill="#222" font-weight="bold" stroke="#222" stroke-width="0.25">箱体六面</text>
<rect x="707.5" y="117.5" width="19" height="38" stroke="#1a1a1a" stroke-width="1.1" fill="none"/>
<rect x="726.5" y="120.5" width="4" height="30" stroke="#1a1a1a" stroke-width="0.9" fill="none"/>
<rect x="704.5" y="155.5" width="26" height="3" stroke="#1a1a1a" stroke-width="0.8" fill="none"/>
<rect x="671.5" y="158.5" width="92" height="9" stroke="#1a1a1a" stroke-width="1.3" fill="none"/>
<rect x="672.5" y="167.5" width="90" height="35" stroke="#1a1a1a" stroke-width="1.2" fill="none"/>
<rect x="672.5" y="202.5" width="90" height="19" stroke="#1a1a1a" stroke-width="1.2" fill="none"/>
<rect x="670.4" y="222.1" width="93.2" height="93.6" stroke="#1a1a1a" stroke-width="1.7" fill="none"/>
<circle cx="717.5" cy="269.1" r="46.6" stroke="#1a1a1a" stroke-width="1.2" fill="none"/>
<circle cx="717.5" cy="269.1" r="40" stroke="#1a1a1a" stroke-width="1.7" fill="none"/>
<circle cx="717.5" cy="269.1" r="25.6" stroke="#1a1a1a" stroke-width="2.0" fill="none"/>
<circle cx="717.5" cy="269.1" r="14.7" stroke="#1a1a1a" stroke-width="1.2" fill="none"/>
<circle cx="717.5" cy="269.1" r="10.5" stroke="#1a1a1a" stroke-width="1.6" fill="none"/>
<circle cx="717.5" cy="269.1" r="3.3" stroke="#1a1a1a" stroke-width="1.8" fill="none"/>
<circle cx="717.5" cy="269.1" r="1.2" stroke="#1a1a1a" stroke-width="0.5" fill="#1a1a1a"/>
<circle cx="717.5" cy="248.9" r="2.1" stroke="#1a1a1a" stroke-width="1.1" fill="none"/>
<circle cx="717.5" cy="289.2" r="2.1" stroke="#1a1a1a" stroke-width="1.1" fill="none"/>
<circle cx="697.2" cy="269.1" r="2.1" stroke="#1a1a1a" stroke-width="1.1" fill="none"/>
<circle cx="737.6" cy="269.1" r="2.1" stroke="#1a1a1a" stroke-width="1.1" fill="none"/>
<circle cx="679.5" cy="231.2" r="2.7" stroke="#1a1a1a" stroke-width="1.1" fill="none"/>
<path d="M673.5 231.5L685.5 231.5" stroke="#1a1a1a" stroke-width="0.85"/>
<path d="M679.5 225.2L679.5 237.2" stroke="#1a1a1a" stroke-width="0.85"/>
<circle cx="679.5" cy="307" r="2.7" stroke="#1a1a1a" stroke-width="1.1" fill="none"/>
<path d="M673.5 306.5L685.5 306.5" stroke="#1a1a1a" stroke-width="0.85"/>
<path d="M679.5 301L679.5 313" stroke="#1a1a1a" stroke-width="0.85"/>
<circle cx="755.5" cy="231.2" r="2.7" stroke="#1a1a1a" stroke-width="1.1" fill="none"/>
<path d="M749.5 231.5L761.5 231.5" stroke="#1a1a1a" stroke-width="0.85"/>
<path d="M755.5 225.2L755.5 237.2" stroke="#1a1a1a" stroke-width="0.85"/>
<circle cx="755.5" cy="307" r="2.7" stroke="#1a1a1a" stroke-width="1.1" fill="none"/>
<path d="M749.5 306.5L761.5 306.5" stroke="#1a1a1a" stroke-width="0.85"/>
<path d="M755.5 301L755.5 313" stroke="#1a1a1a" stroke-width="0.85"/>
<rect x="728.5" y="266.5" width="2" height="6" stroke="#1a1a1a" stroke-width="0.8" fill="none"/>
<path d="M717.5 112L717.5 320.5" stroke="#1a1a1a" stroke-width="0.85" stroke-dasharray="7 1.5 1.5 1.5"/>
<path d="M670 269.5L768 269.5" stroke="#1a1a1a" stroke-width="0.85" stroke-dasharray="7 1.5 1.5 1.5"/>
<path d="M650.5 117.6L650.5 269.1" stroke="#2b2b2b" stroke-width="0.9"/>
<path d="M650.4 117.6L652 123.6L648.8 123.6Z" fill="#1a1a1a" stroke="none"/>
<path d="M650.4 269.1L648.8 263.1L652 263.1Z" fill="#1a1a1a" stroke="none"/>
<path d="M647 117.5L707.3 117.5" stroke="#2b2b2b" stroke-width="0.9"/>
<path d="M647 269.5L670 269.5" stroke="#2b2b2b" stroke-width="0.9"/>
<text transform="translate(647.8 203) rotate(-90) scale(0.93 1)" text-anchor="middle" font-size="10.1" font-family='"Liberation Sans",sans-serif' fill="#2a2a2a" stroke="#2a2a2a" stroke-width="0.2" letter-spacing="0.25">95.<tspan dx="2.6">5</tspan></text>
<path d="M666.5 139L666.5 166" stroke="#2b2b2b" stroke-width="0.9"/>
<path d="M666 155.6L664.4 151.1L667.6 151.1Z" fill="#1a1a1a" stroke="none"/>
<path d="M666 158.3L667.6 162.8L664.4 162.8Z" fill="#1a1a1a" stroke="none"/>
<path d="M664 155.5L704.2 155.5" stroke="#2b2b2b" stroke-width="0.9"/>
<path d="M664 158.5L671.4 158.5" stroke="#2b2b2b" stroke-width="0.9"/>
<text transform="translate(663 141.5) rotate(-90) scale(0.68 1)" text-anchor="middle" font-size="11.7" font-family='"Liberation Sans","Noto Sans CJK SC",sans-serif' fill="#222" font-weight="bold" stroke="#222" stroke-width="0.25">2</text>
<path d="M664.5 138L664.5 145" stroke="#2b2b2b" stroke-width="0.9"/>
<path d="M786.5 222L786.5 316" stroke="#2b2b2b" stroke-width="0.9"/>
<path d="M787 222L788.6 228L785.4 228Z" fill="#1a1a1a" stroke="none"/>
<path d="M787 316L785.4 310L788.6 310Z" fill="#1a1a1a" stroke="none"/>
<path d="M764.3 222.5L790.5 222.5" stroke="#2b2b2b" stroke-width="0.9"/>
<path d="M764.3 316.5L790.5 316.5" stroke="#2b2b2b" stroke-width="0.9"/>
<text transform="translate(785 273) rotate(-90) scale(0.93 1)" text-anchor="middle" font-size="10.1" font-family='"Liberation Sans",sans-serif' fill="#2a2a2a" stroke="#2a2a2a" stroke-width="0.2">70</text>
<path d="M670 342.5L764.3 342.5" stroke="#2b2b2b" stroke-width="0.9"/>
<path d="M670 342.6L676 341L676 344.2Z" fill="#1a1a1a" stroke="none"/>
<path d="M764.3 342.6L758.3 344.2L758.3 341Z" fill="#1a1a1a" stroke="none"/>
<path d="M670.5 316L670.5 345" stroke="#2b2b2b" stroke-width="0.9"/>
<path d="M764.5 316L764.5 345" stroke="#2b2b2b" stroke-width="0.9"/>
<text transform="translate(717.4 340.4) scale(0.93 1)" text-anchor="middle" font-size="10.1" font-family='"Liberation Sans",sans-serif' fill="#2a2a2a" stroke="#2a2a2a" stroke-width="0.2">70</text>
<text transform="translate(669.6 362.2) scale(0.68 1)" text-anchor="start" font-size="11.7" font-family='"Liberation Sans","Noto Sans CJK SC",sans-serif' fill="#222" font-weight="bold" stroke="#222" stroke-width="0.25">M5X12</text>
<path d="M668 363.5L692 363.5" stroke="#2b2b2b" stroke-width="0.9"/>
<path d="M692 363.6L713.9 382.9" stroke="#1a1a1a" stroke-width="0.85"/>
<clipPath id="cs"><path clip-rule="evenodd" d="M698.15 389.9a20.1 20.1 0 1 0 40.2 0a20.1 20.1 0 1 0 -40.2 0ZM711.25 389.9a7 7 0 1 0 14 0a7 7 0 1 0 -14 0ZM730.85 383.4H745V395.65H730.85Z"/></clipPath>
<path d="M627.75 410L667.95 369.8M636.55 410L676.75 369.8M645.35 410L685.55 369.8M654.15 410L694.35 369.8M662.95 410L703.15 369.8M671.75 410L711.95 369.8M680.55 410L720.75 369.8M689.35 410L729.55 369.8M698.15 410L738.35 369.8M706.95 410L747.15 369.8M715.75 410L755.95 369.8M724.55 410L764.75 369.8M733.35 410L773.55 369.8M742.15 410L782.35 369.8M750.95 410L791.15 369.8M759.75 410L799.95 369.8M768.55 410L808.75 369.8" stroke="#1a1a1a" stroke-width="0.8" clip-path="url(#cs)"/>
<circle cx="718.25" cy="389.9" r="20.1" stroke="#1a1a1a" stroke-width="1.4" fill="none"/>
<rect x="730.5" y="383.5" width="14" height="12" stroke="#1a1a1a" stroke-width="0.9" fill="#fff"/>
<clipPath id="ck"><rect x="730.85" y="383.4" width="13.65" height="12.25"/></clipPath>
<path d="M690.1 397.5L706.1 381.5M693.4 397.5L709.4 381.5M696.7 397.5L712.7 381.5M700 397.5L716 381.5M703.3 397.5L719.3 381.5M706.6 397.5L722.6 381.5M709.9 397.5L725.9 381.5M713.2 397.5L729.2 381.5M716.5 397.5L732.5 381.5M719.8 397.5L735.8 381.5M723.1 397.5L739.1 381.5M726.4 397.5L742.4 381.5M729.7 397.5L745.7 381.5M733 397.5L749 381.5M736.3 397.5L752.3 381.5M739.6 397.5L755.6 381.5M742.9 397.5L758.9 381.5M746.2 397.5L762.2 381.5M749.5 397.5L765.5 381.5M752.8 397.5L768.8 381.5M756.1 397.5L772.1 381.5M759.4 397.5L775.4 381.5M762.7 397.5L778.7 381.5M766 397.5L782 381.5M769.3 397.5L785.3 381.5" stroke="#1a1a1a" stroke-width="0.7" clip-path="url(#ck)"/>
<circle cx="718.25" cy="389.9" r="7" stroke="#1a1a1a" stroke-width="1.1" fill="none"/>
<circle cx="718.25" cy="389.9" r="4.4" stroke="#1a1a1a" stroke-width="1.1" fill="none"/>
<path d="M691 389.5L745 389.5" stroke="#1a1a1a" stroke-width="0.85" stroke-dasharray="7 1.5 1.5 1.5"/>
<path d="M718.5 362.4L718.5 417" stroke="#1a1a1a" stroke-width="0.85" stroke-dasharray="7 1.5 1.5 1.5"/>
<path d="M698.1 430.5L743.6 430.5" stroke="#2b2b2b" stroke-width="0.9"/>
<path d="M698.1 430.5L704.1 428.9L704.1 432.1Z" fill="#1a1a1a" stroke="none"/>
<path d="M743.6 430.5L737.6 432.1L737.6 428.9Z" fill="#1a1a1a" stroke="none"/>
<path d="M698.5 390L698.5 433" stroke="#2b2b2b" stroke-width="0.9"/>
<path d="M743.5 396L743.5 433" stroke="#2b2b2b" stroke-width="0.9"/>
<text transform="translate(720.9 427.6) scale(0.68 1)" text-anchor="middle" font-size="11.7" font-family='"Liberation Sans","Noto Sans CJK SC",sans-serif' fill="#222" font-weight="bold" stroke="#222" stroke-width="0.25">18</text>
<path d="M756.5 368L756.5 404" stroke="#2b2b2b" stroke-width="0.9"/>
<path d="M756.75 383.4L755.15 378.9L758.35 378.9Z" fill="#1a1a1a" stroke="none"/>
<path d="M756.75 395.65L758.35 400.15L755.15 400.15Z" fill="#1a1a1a" stroke="none"/>
<path d="M744.5 383.5L759.5 383.5" stroke="#2b2b2b" stroke-width="0.9"/>
<path d="M744.5 395.5L759.5 395.5" stroke="#2b2b2b" stroke-width="0.9"/>
<text transform="translate(756 371.5) rotate(-90) scale(0.68 1)" text-anchor="middle" font-size="11.7" font-family='"Liberation Sans","Noto Sans CJK SC",sans-serif' fill="#222" font-weight="bold" stroke="#222" stroke-width="0.25">5</text>
</svg>
<div class="n1">*1. 随安装马达的不同而存在差异</div>
<div class="thead" style="left:6.5px;top:481px;width:784.2px;height:21.8px"><span style="position:relative;left:-6.5px">PW系列性能参数表 / PW Series Performance Table</span></div>
<div style="position:absolute;left:6.5px;top:502.8px;width:303.5px;height:476.3px;background:#dcdddd"></div>
<div class="c lab" style="left:6.5px;top:502.80px;width:303.5px;height:43.30px"><span>规格 Specification</span></div>
<div class="c lab" style="left:6.5px;top:546.10px;width:303.5px;height:43.30px"><span>额定输出力矩Rated output torqueT<span class="sb">2N</span></span></div>
<div class="c lab" style="left:6.5px;top:589.40px;width:303.5px;height:21.65px"><span>急停扭矩 / Emergency stop torqueT<span class="sb">2NOT</span></span></div>
<div class="c lab" style="left:6.5px;top:611.05px;width:303.5px;height:21.65px"><span>额定输入转速 / Rated input speed&nbsp; η<span class="sb">1N</span></span></div>
<div class="c lab" style="left:6.5px;top:632.70px;width:303.5px;height:21.65px"><span>最大输入转速 / Maximum input speed&nbsp; η<span class="sb"> 1B</span></span></div>
<div class="c lab" style="left:6.5px;top:654.35px;width:303.5px;height:21.65px"><span>输出容许径向力 / Allowable radial force F<span class="sb">2aB</span></span></div>
<div class="c lab" style="left:6.5px;top:676.00px;width:303.5px;height:21.65px"><span>输出容许轴向力 / Allowable axial force F<span class="sb">2aB</span></span></div>
<div class="c lab" style="left:6.5px;top:697.65px;width:303.5px;height:21.65px"><span>输入容许径向力 / Allowable radial force F<span class="sb">2aB</span></span></div>
<div class="c lab" style="left:6.5px;top:719.30px;width:303.5px;height:21.65px"><span>输入容许轴向力 / Allowable axial force F<span class="sb">2aB</span></span></div>
<div class="c lab" style="left:6.5px;top:740.95px;width:303.5px;height:21.65px"><span>使用寿命 / Lifespan</span></div>
<div class="c lab" style="left:6.5px;top:762.60px;width:303.5px;height:43.30px"><span>效率 / Efficiency</span></div>
<div class="c lab" style="left:6.5px;top:805.90px;width:303.5px;height:43.30px"><span>重量 / Weight</span></div>
<div class="c lab" style="left:6.5px;top:849.20px;width:303.5px;height:21.65px"><span>使用温度 / Working temperature</span></div>
<div class="c lab" style="left:6.5px;top:870.85px;width:303.5px;height:21.65px"><span>润滑 / Lubricating</span></div>
<div class="c lab" style="left:6.5px;top:892.50px;width:303.5px;height:21.65px"><span>防护等级 / IP Grade</span></div>
<div class="c lab" style="left:6.5px;top:914.15px;width:303.5px;height:21.65px"><span>安装方向 / Installation direction</span></div>
<div class="c lab" style="left:6.5px;top:935.80px;width:303.5px;height:43.30px"><span><span style="line-height:16.3px;position:relative;top:2px">噪音值(n1=3000rpm,无负载) Noise level<br>( η 1=3000rpm,off load)</span></span></div>
<div class="c " style="left:310.0px;top:502.80px;width:65.3px;height:43.30px"><span>单位 Unit</span></div>
<div class="c " style="left:310.0px;top:546.10px;width:65.3px;height:43.30px"><span>Nm</span></div>
<div class="c " style="left:310.0px;top:589.40px;width:65.3px;height:21.65px"><span>Nm</span></div>
<div class="c " style="left:310.0px;top:611.05px;width:65.3px;height:43.30px"><span>rpm</span></div>
<div class="c " style="left:310.0px;top:654.35px;width:65.3px;height:21.65px"><span>N</span></div>
<div class="c " style="left:310.0px;top:676.00px;width:65.3px;height:21.65px"><span>N</span></div>
<div class="c " style="left:310.0px;top:697.65px;width:65.3px;height:21.65px"><span>N</span></div>
<div class="c " style="left:310.0px;top:719.30px;width:65.3px;height:21.65px"><span>N</span></div>
<div class="c " style="left:310.0px;top:740.95px;width:65.3px;height:21.65px"><span>hr</span></div>
<div class="c " style="left:310.0px;top:762.60px;width:65.3px;height:43.30px"><span>%</span></div>
<div class="c " style="left:310.0px;top:805.90px;width:65.3px;height:43.30px"><span>kg</span></div>
<div class="c " style="left:310.0px;top:849.20px;width:65.3px;height:21.65px"><span><span class="dc">℃</span></span></div>
<div class="c " style="left:310.0px;top:870.85px;width:65.3px;height:64.95px"><span></span></div>
<div class="c " style="left:310.0px;top:935.80px;width:65.3px;height:43.30px"><span><span style="font-size:11.5px">dB(A)</span></span></div>
<div class="c " style="left:375.3px;top:502.80px;width:66.2px;height:43.30px"><span>节数 Stage</span></div>
<div class="c " style="left:375.3px;top:546.10px;width:66.2px;height:43.30px"><span>1</span></div>
<div class="c " style="left:375.3px;top:589.40px;width:66.2px;height:21.65px"><span>1</span></div>
<div class="c " style="left:375.3px;top:611.05px;width:66.2px;height:21.65px"><span>1</span></div>
<div class="c " style="left:375.3px;top:632.70px;width:66.2px;height:21.65px"><span>1</span></div>
<div class="c " style="left:375.3px;top:654.35px;width:66.2px;height:21.65px"><span>1</span></div>
<div class="c " style="left:375.3px;top:676.00px;width:66.2px;height:21.65px"><span>1</span></div>
<div class="c " style="left:375.3px;top:697.65px;width:66.2px;height:21.65px"><span>1</span></div>
<div class="c " style="left:375.3px;top:719.30px;width:66.2px;height:21.65px"><span>1</span></div>
<div class="c " style="left:375.3px;top:740.95px;width:66.2px;height:21.65px"><span>1</span></div>
<div class="c " style="left:375.3px;top:762.60px;width:66.2px;height:21.65px"><span>1</span></div>
<div class="c " style="left:375.3px;top:784.25px;width:66.2px;height:21.65px"><span>1</span></div>
<div class="c " style="left:375.3px;top:805.90px;width:66.2px;height:21.65px"><span>1</span></div>
<div class="c " style="left:375.3px;top:827.55px;width:66.2px;height:21.65px"><span>1</span></div>
<div class="c " style="left:375.3px;top:849.20px;width:66.2px;height:21.65px"><span>1</span></div>
<div class="c " style="left:375.3px;top:870.85px;width:66.2px;height:21.65px"><span>1</span></div>
<div class="c " style="left:375.3px;top:892.50px;width:66.2px;height:21.65px"><span>1</span></div>
<div class="c " style="left:375.3px;top:914.15px;width:66.2px;height:21.65px"><span>1</span></div>
<div class="c " style="left:375.3px;top:935.80px;width:66.2px;height:43.30px"><span>1</span></div>
<div class="c " style="left:441.5px;top:502.80px;width:77.1px;height:43.30px"><span>减速比 Ratio</span></div>
<div class="c " style="left:441.5px;top:546.10px;width:77.1px;height:21.65px"><span>1</span></div>
<div class="c " style="left:441.5px;top:567.75px;width:77.1px;height:21.65px"><span>2</span></div>
<div class="c " style="left:441.5px;top:589.40px;width:77.1px;height:21.65px"><span>1~2</span></div>
<div class="c " style="left:441.5px;top:611.05px;width:77.1px;height:21.65px"><span>1~2</span></div>
<div class="c " style="left:441.5px;top:632.70px;width:77.1px;height:21.65px"><span>1~2</span></div>
<div class="c " style="left:441.5px;top:654.35px;width:77.1px;height:21.65px"><span>1~2</span></div>
<div class="c " style="left:441.5px;top:676.00px;width:77.1px;height:21.65px"><span>1~2</span></div>
<div class="c " style="left:441.5px;top:697.65px;width:77.1px;height:21.65px"><span>1~2</span></div>
<div class="c " style="left:441.5px;top:719.30px;width:77.1px;height:21.65px"><span>1~2</span></div>
<div class="c " style="left:441.5px;top:740.95px;width:77.1px;height:21.65px"><span>1~2</span></div>
<div class="c " style="left:441.5px;top:762.60px;width:77.1px;height:21.65px"><span>1~2</span></div>
<div class="c " style="left:441.5px;top:784.25px;width:77.1px;height:21.65px"><span>1~2</span></div>
<div class="c " style="left:441.5px;top:805.90px;width:77.1px;height:21.65px"><span>1~2</span></div>
<div class="c " style="left:441.5px;top:827.55px;width:77.1px;height:21.65px"><span>1~2</span></div>
<div class="c " style="left:441.5px;top:849.20px;width:77.1px;height:21.65px"><span>1~2</span></div>
<div class="c " style="left:441.5px;top:892.50px;width:77.1px;height:21.65px"><span>1~2</span></div>
<div class="c " style="left:441.5px;top:914.15px;width:77.1px;height:21.65px"><span>1~2</span></div>
<div class="c " style="left:441.5px;top:935.80px;width:77.1px;height:43.30px"><span>1~2</span></div>
<div class="c " style="left:518.6px;top:502.80px;width:272.1px;height:43.30px"><span>PW070</span></div>
<div class="c " style="left:518.6px;top:546.10px;width:272.1px;height:21.65px"><span>45</span></div>
<div class="c " style="left:518.6px;top:567.75px;width:272.1px;height:21.65px"><span>42</span></div>
<div class="c " style="left:518.6px;top:589.40px;width:272.1px;height:21.65px"><span>二倍额定输出力矩 / Double rated output torque</span></div>
<div class="c " style="left:518.6px;top:611.05px;width:272.1px;height:21.65px"><span>3000</span></div>
<div class="c " style="left:518.6px;top:632.70px;width:272.1px;height:21.65px"><span>6000</span></div>
<div class="c " style="left:518.6px;top:654.35px;width:272.1px;height:21.65px"><span>1100</span></div>
<div class="c " style="left:518.6px;top:676.00px;width:272.1px;height:21.65px"><span>550</span></div>
<div class="c " style="left:518.6px;top:697.65px;width:272.1px;height:21.65px"><span>950</span></div>
<div class="c " style="left:518.6px;top:719.30px;width:272.1px;height:21.65px"><span>425</span></div>
<div class="c " style="left:518.6px;top:740.95px;width:272.1px;height:21.65px"><span><span class="ge">≥</span>20000</span></div>
<div class="c " style="left:518.6px;top:762.60px;width:272.1px;height:21.65px"><span><span class="ge">≥</span>97%</span></div>
<div class="c " style="left:518.6px;top:784.25px;width:272.1px;height:21.65px"><span><span class="ge">≥</span>94%</span></div>
<div class="c " style="left:518.6px;top:805.90px;width:272.1px;height:21.65px"><span>3.9</span></div>
<div class="c " style="left:518.6px;top:827.55px;width:272.1px;height:21.65px"><span>3.9</span></div>
<div class="c " style="left:518.6px;top:849.20px;width:272.1px;height:21.65px"><span>-15<span class="dc">℃</span>~90<span class="dc">℃</span></span></div>
<div class="c " style="left:518.6px;top:892.50px;width:272.1px;height:21.65px"><span>IP65</span></div>
<div class="c " style="left:518.6px;top:914.15px;width:272.1px;height:21.65px"><span>任意方向 / In any direction</span></div>
<div class="c " style="left:518.6px;top:935.80px;width:272.1px;height:43.30px"><span><span class="ge">≤</span>56</span></div>
<div class="c " style="left:441.5px;top:870.85px;width:349.2px;height:21.65px"><span>合成润滑油脂 / Synthetic lubricating grease</span></div>
<svg class="grid" width="800" height="1050" viewBox="0 0 800 1050" style="position:absolute;left:0;top:0" fill="none" stroke="#555" stroke-width="1">
<path d="M6.5 481V979.10H790.7V481" /><path d="M6.5 502.80H790.7"/><path d="M6.5 546.10H310.0"/><path d="M6.5 589.40H310.0"/><path d="M6.5 611.05H310.0"/><path d="M6.5 632.70H310.0"/><path d="M6.5 654.35H310.0"/><path d="M6.5 676.00H310.0"/><path d="M6.5 697.65H310.0"/><path d="M6.5 719.30H310.0"/><path d="M6.5 740.95H310.0"/><path d="M6.5 762.60H310.0"/><path d="M6.5 805.90H310.0"/><path d="M6.5 849.20H310.0"/><path d="M6.5 870.85H310.0"/><path d="M6.5 892.50H310.0"/><path d="M6.5 914.15H310.0"/><path d="M6.5 935.80H310.0"/><path d="M310.0 546.10H375.3"/><path d="M310.0 589.40H375.3"/><path d="M310.0 611.05H375.3"/><path d="M310.0 654.35H375.3"/><path d="M310.0 676.00H375.3"/><path d="M310.0 697.65H375.3"/><path d="M310.0 719.30H375.3"/><path d="M310.0 740.95H375.3"/><path d="M310.0 762.60H375.3"/><path d="M310.0 805.90H375.3"/><path d="M310.0 849.20H375.3"/><path d="M310.0 870.85H375.3"/><path d="M310.0 935.80H375.3"/><path d="M375.3 546.10H441.5"/><path d="M375.3 589.40H441.5"/><path d="M375.3 611.05H441.5"/><path d="M375.3 632.70H441.5"/><path d="M375.3 654.35H441.5"/><path d="M375.3 676.00H441.5"/><path d="M375.3 697.65H441.5"/><path d="M375.3 719.30H441.5"/><path d="M375.3 740.95H441.5"/><path d="M375.3 762.60H441.5"/><path d="M375.3 784.25H441.5"/><path d="M375.3 805.90H441.5"/><path d="M375.3 827.55H441.5"/><path d="M375.3 849.20H441.5"/><path d="M375.3 870.85H441.5"/><path d="M375.3 892.50H441.5"/><path d="M375.3 914.15H441.5"/><path d="M375.3 935.80H441.5"/><path d="M441.5 546.10H790.7"/><path d="M441.5 567.75H790.7"/><path d="M441.5 589.40H790.7"/><path d="M441.5 611.05H790.7"/><path d="M441.5 632.70H790.7"/><path d="M441.5 654.35H790.7"/><path d="M441.5 676.00H790.7"/><path d="M441.5 697.65H790.7"/><path d="M441.5 719.30H790.7"/><path d="M441.5 740.95H790.7"/><path d="M441.5 762.60H790.7"/><path d="M441.5 784.25H790.7"/><path d="M441.5 805.90H790.7"/><path d="M441.5 827.55H790.7"/><path d="M441.5 849.20H790.7"/><path d="M441.5 870.85H790.7"/><path d="M441.5 892.50H790.7"/><path d="M441.5 914.15H790.7"/><path d="M441.5 935.80H790.7"/><path d="M310.0 502.80V979.10"/><path d="M375.3 502.80V979.10"/><path d="M441.5 502.80V979.10"/><path d="M518.6 502.80V870.85"/><path d="M518.6 892.50V979.10"/>
</svg>

<div class="n2" style="left:6px">*1.减速比i=N<sub>in</sub>/N<sub>out</sub></div>
<div class="n2" style="left:93.5px">*2.输出转速为100rpm时，作用于输出轴中心位置</div>
<div class="n2" style="left:305.5px">*3.可定制高低温油脂</div>
</div></body></html>
